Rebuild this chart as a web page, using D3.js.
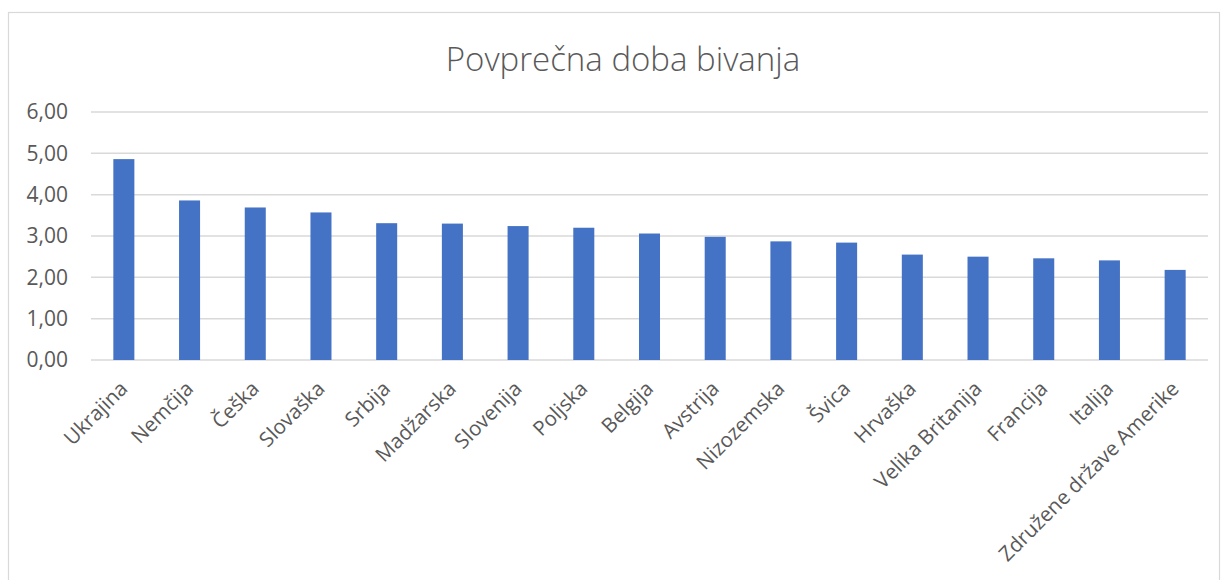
<!DOCTYPE html>
<html>
<head>
<meta charset="utf-8">
<script src="https://cdn.jsdelivr.net/npm/d3@7"></script>
<style>
  body { margin: 0; background: #fff; }
  svg { display: block; }
</style>
</head>
<body>
<svg id="chart"></svg>
<script>
  const countries = ['Ukrajina', 'Nemčija', 'Češka', 'Slovaška', 'Srbija', 'Madžarska', 'Slovenija',
    'Poljska', 'Belgija', 'Avstrija', 'Nizozemska', 'Švica', 'Hrvaška', 'Velika Britanija',
    'Francija', 'Italija', 'Združene države Amerike'];
  const stayLength = [4.86, 3.86, 3.69, 3.57, 3.31, 3.30, 3.24, 3.20, 3.06, 2.98, 2.87, 2.84,
    2.55, 2.50, 2.46, 2.41, 2.18];
  const yTicks = [0, 1, 2, 3, 4, 5, 6];
  const title = 'Povprečna doba bivanja';

  const width = 1225;
  const height = 580;
  const margin = { left: 91, right: 17, top: 112, bottom: 220 };

  const svg = d3.select('#chart')
    .attr('width', width)
    .attr('height', height);

  // chart frame
  svg.append('rect')
    .attr('x', 8.5).attr('y', 12.5)
    .attr('width', 1211).attr('height', 600)
    .attr('fill', 'none')
    .attr('stroke', '#d9d9d9')
    .attr('stroke-width', 1.2);

  svg.append('text')
    .attr('x', 623).attr('y', 71)
    .attr('text-anchor', 'middle')
    .style('font-family', '"Open Sans", sans-serif')
    .style('font-weight', 300)
    .style('font-size', '33px')
    .attr('fill', '#595959')
    .text(title);

  const x = d3.scaleBand()
    .domain(countries)
    .range([margin.left, width - margin.right])
    .padding(0);

  const y = d3.scaleLinear()
    .domain([0, 6])
    .range([360, margin.top]);

  const fmt = function(v) { return v.toFixed(2).replace('.', ','); };

  // gridlines
  svg.append('g').selectAll('line')
    .data(yTicks)
    .enter()
    .append('line')
    .attr('x1', margin.left)
    .attr('x2', width - margin.right)
    .attr('y1', function(d) { return y(d); })
    .attr('y2', function(d) { return y(d); })
    .attr('stroke', '#d9d9d9')
    .attr('stroke-width', 1.5);

  // y axis labels
  svg.append('g').selectAll('text')
    .data(yTicks)
    .enter()
    .append('text')
    .attr('x', 68)
    .attr('y', function(d) { return y(d); })
    .attr('dy', '0.35em')
    .attr('text-anchor', 'end')
    .style('font-family', '"Open Sans", sans-serif')
    .style('font-size', '21px')
    .attr('fill', '#595959')
    .text(fmt);

  const barWidth = x.bandwidth() * 0.32;

  svg.append('g').selectAll('rect')
    .data(stayLength)
    .enter()
    .append('rect')
    .attr('x', function(d, i) { return x(countries[i]) + (x.bandwidth() - barWidth) / 2; })
    .attr('y', function(d) { return y(d); })
    .attr('width', barWidth)
    .attr('height', function(d) { return y(0) - y(d); })
    .attr('fill', '#4472c4');

  // category labels, rotated
  svg.append('g').selectAll('text')
    .data(countries)
    .enter()
    .append('text')
    .attr('transform', function(d) {
      const cx = x(d) + x.bandwidth() / 2 + 5;
      return 'translate(' + cx + ',390) rotate(-45)';
    })
    .attr('text-anchor', 'end')
    .style('font-family', '"Open Sans", sans-serif')
    .style('font-size', '20.5px')
    .attr('fill', '#595959')
    .text(function(d) { return d; });
</script>
</body>
</html>
